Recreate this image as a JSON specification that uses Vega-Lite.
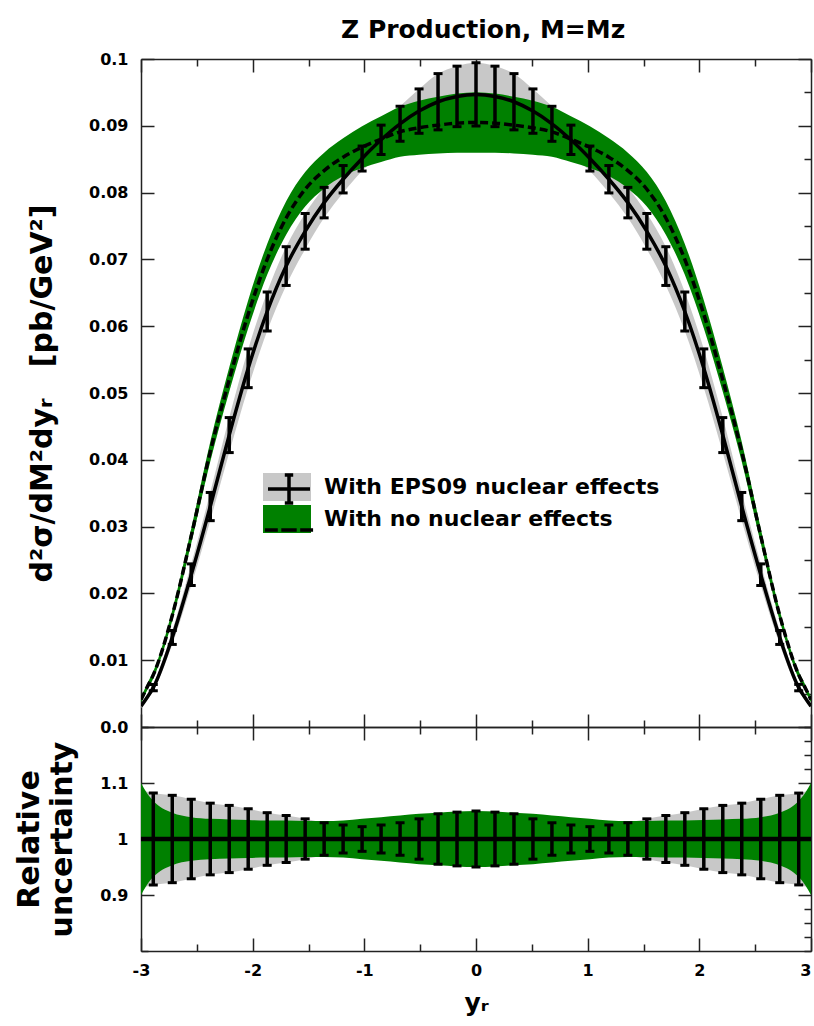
{
  "$schema": "https://vega.github.io/schema/vega-lite/v6.json",
  "padding": {"left": 14, "top": 18, "right": 4, "bottom": 5},
  "title": {"text": "Z Production, M=Mᴢ", "font": "DejaVu Sans", "fontWeight": "bold", "fontSize": 25, "color": "black", "anchor": "middle", "offset": 8, "dx": 68},
  "config": {
    "font": "DejaVu Sans",
    "view": {"stroke": null},
    "axis": {"labelFont": "DejaVu Sans", "labelFontWeight": "bold", "labelFontSize": 16, "labelColor": "black", "titleFont": "DejaVu Sans", "titleFontWeight": "bold", "titleFontSize": 30, "titleColor": "black", "domainColor": "#222", "domainWidth": 1.5, "tickColor": "#222", "tickWidth": 1.5, "grid": false, "labelFlush": false, "labelOverlap": false}
  },
  "datasets": {
    "eps": [
      {"x": -3, "y": 0.0031, "lo": 0.00283, "hi": 0.00337, "rlo": 0.912, "rhi": 1.088},
      {"x": -2.95, "y": 0.0043, "lo": 0.00393, "hi": 0.00467, "rlo": 0.915, "rhi": 1.085},
      {"x": -2.89, "y": 0.0059, "lo": 0.00542, "hi": 0.00638, "rlo": 0.918, "rhi": 1.082},
      {"x": -2.72, "y": 0.0134, "lo": 0.01236, "hi": 0.01445, "rlo": 0.922, "rhi": 1.078},
      {"x": -2.55, "y": 0.0228, "lo": 0.02118, "hi": 0.02442, "rlo": 0.929, "rhi": 1.071},
      {"x": -2.38, "y": 0.033, "lo": 0.03089, "hi": 0.03511, "rlo": 0.936, "rhi": 1.064},
      {"x": -2.21, "y": 0.0437, "lo": 0.04108, "hi": 0.04632, "rlo": 0.94, "rhi": 1.06},
      {"x": -2.04, "y": 0.0537, "lo": 0.0508, "hi": 0.0566, "rlo": 0.946, "rhi": 1.054},
      {"x": -1.87, "y": 0.0622, "lo": 0.05928, "hi": 0.06512, "rlo": 0.953, "rhi": 1.047},
      {"x": -1.7, "y": 0.069, "lo": 0.0661, "hi": 0.0719, "rlo": 0.958, "rhi": 1.042},
      {"x": -1.53, "y": 0.0742, "lo": 0.07153, "hi": 0.07687, "rlo": 0.964, "rhi": 1.036},
      {"x": -1.36, "y": 0.0785, "lo": 0.07622, "hi": 0.08078, "rlo": 0.971, "rhi": 1.029},
      {"x": -1.19, "y": 0.082, "lo": 0.07995, "hi": 0.08405, "rlo": 0.975, "rhi": 1.025},
      {"x": -1.02, "y": 0.0851, "lo": 0.08323, "hi": 0.08697, "rlo": 0.978, "rhi": 1.022},
      {"x": -0.85, "y": 0.0879, "lo": 0.0857, "hi": 0.0901, "rlo": 0.975, "rhi": 1.025},
      {"x": -0.68, "y": 0.0903, "lo": 0.08768, "hi": 0.09292, "rlo": 0.971, "rhi": 1.029},
      {"x": -0.51, "y": 0.0922, "lo": 0.08888, "hi": 0.09552, "rlo": 0.964, "rhi": 1.036},
      {"x": -0.34, "y": 0.0936, "lo": 0.08939, "hi": 0.09781, "rlo": 0.955, "rhi": 1.045},
      {"x": -0.17, "y": 0.0944, "lo": 0.08987, "hi": 0.09893, "rlo": 0.952, "rhi": 1.048},
      {"x": 0, "y": 0.0947, "lo": 0.08997, "hi": 0.09944, "rlo": 0.95, "rhi": 1.05},
      {"x": 0.17, "y": 0.0944, "lo": 0.08987, "hi": 0.09893, "rlo": 0.952, "rhi": 1.048},
      {"x": 0.34, "y": 0.0936, "lo": 0.08939, "hi": 0.09781, "rlo": 0.955, "rhi": 1.045},
      {"x": 0.51, "y": 0.0922, "lo": 0.08888, "hi": 0.09552, "rlo": 0.964, "rhi": 1.036},
      {"x": 0.68, "y": 0.0903, "lo": 0.08768, "hi": 0.09292, "rlo": 0.971, "rhi": 1.029},
      {"x": 0.85, "y": 0.0879, "lo": 0.0857, "hi": 0.0901, "rlo": 0.975, "rhi": 1.025},
      {"x": 1.02, "y": 0.0851, "lo": 0.08323, "hi": 0.08697, "rlo": 0.978, "rhi": 1.022},
      {"x": 1.19, "y": 0.082, "lo": 0.07995, "hi": 0.08405, "rlo": 0.975, "rhi": 1.025},
      {"x": 1.36, "y": 0.0785, "lo": 0.07622, "hi": 0.08078, "rlo": 0.971, "rhi": 1.029},
      {"x": 1.53, "y": 0.0742, "lo": 0.07153, "hi": 0.07687, "rlo": 0.964, "rhi": 1.036},
      {"x": 1.7, "y": 0.069, "lo": 0.0661, "hi": 0.0719, "rlo": 0.958, "rhi": 1.042},
      {"x": 1.87, "y": 0.0622, "lo": 0.05928, "hi": 0.06512, "rlo": 0.953, "rhi": 1.047},
      {"x": 2.04, "y": 0.0537, "lo": 0.0508, "hi": 0.0566, "rlo": 0.946, "rhi": 1.054},
      {"x": 2.21, "y": 0.0437, "lo": 0.04108, "hi": 0.04632, "rlo": 0.94, "rhi": 1.06},
      {"x": 2.38, "y": 0.033, "lo": 0.03089, "hi": 0.03511, "rlo": 0.936, "rhi": 1.064},
      {"x": 2.55, "y": 0.0228, "lo": 0.02118, "hi": 0.02442, "rlo": 0.929, "rhi": 1.071},
      {"x": 2.72, "y": 0.0134, "lo": 0.01236, "hi": 0.01445, "rlo": 0.922, "rhi": 1.078},
      {"x": 2.89, "y": 0.0059, "lo": 0.00542, "hi": 0.00638, "rlo": 0.918, "rhi": 1.082},
      {"x": 2.95, "y": 0.0043, "lo": 0.00393, "hi": 0.00467, "rlo": 0.915, "rhi": 1.085},
      {"x": 3, "y": 0.0031, "lo": 0.00283, "hi": 0.00337, "rlo": 0.912, "rhi": 1.088}
    ],
    "nonuc": [
      {"x": -3, "y": 0.0041, "lo": 0.00369, "hi": 0.00451, "rlo": 0.9, "rhi": 1.1},
      {"x": -2.95, "y": 0.0058, "lo": 0.00532, "hi": 0.00628, "rlo": 0.917, "rhi": 1.083},
      {"x": -2.89, "y": 0.0078, "lo": 0.00727, "hi": 0.00833, "rlo": 0.932, "rhi": 1.068},
      {"x": -2.72, "y": 0.0167, "lo": 0.01592, "hi": 0.01749, "rlo": 0.953, "rhi": 1.047},
      {"x": -2.55, "y": 0.0286, "lo": 0.02749, "hi": 0.02972, "rlo": 0.961, "rhi": 1.039},
      {"x": -2.38, "y": 0.0412, "lo": 0.03972, "hi": 0.04268, "rlo": 0.964, "rhi": 1.036},
      {"x": -2.21, "y": 0.052, "lo": 0.05018, "hi": 0.05382, "rlo": 0.965, "rhi": 1.035},
      {"x": -2.04, "y": 0.0618, "lo": 0.0597, "hi": 0.0639, "rlo": 0.966, "rhi": 1.034},
      {"x": -1.87, "y": 0.07, "lo": 0.06769, "hi": 0.07231, "rlo": 0.967, "rhi": 1.033},
      {"x": -1.7, "y": 0.0762, "lo": 0.07369, "hi": 0.07872, "rlo": 0.967, "rhi": 1.033},
      {"x": -1.53, "y": 0.0805, "lo": 0.07792, "hi": 0.08308, "rlo": 0.968, "rhi": 1.032},
      {"x": -1.36, "y": 0.0833, "lo": 0.08063, "hi": 0.08597, "rlo": 0.968, "rhi": 1.032},
      {"x": -1.19, "y": 0.0853, "lo": 0.08249, "hi": 0.08812, "rlo": 0.967, "rhi": 1.033},
      {"x": -1.02, "y": 0.0868, "lo": 0.08368, "hi": 0.08993, "rlo": 0.964, "rhi": 1.036},
      {"x": -0.85, "y": 0.088, "lo": 0.08457, "hi": 0.09143, "rlo": 0.961, "rhi": 1.039},
      {"x": -0.68, "y": 0.0891, "lo": 0.08536, "hi": 0.09284, "rlo": 0.958, "rhi": 1.042},
      {"x": -0.51, "y": 0.0897, "lo": 0.08566, "hi": 0.09374, "rlo": 0.955, "rhi": 1.045},
      {"x": -0.34, "y": 0.0901, "lo": 0.08587, "hi": 0.09434, "rlo": 0.953, "rhi": 1.047},
      {"x": -0.17, "y": 0.0904, "lo": 0.08597, "hi": 0.09483, "rlo": 0.951, "rhi": 1.049},
      {"x": 0, "y": 0.0905, "lo": 0.08598, "hi": 0.09503, "rlo": 0.95, "rhi": 1.05},
      {"x": 0.17, "y": 0.0904, "lo": 0.08597, "hi": 0.09483, "rlo": 0.951, "rhi": 1.049},
      {"x": 0.34, "y": 0.0901, "lo": 0.08587, "hi": 0.09434, "rlo": 0.953, "rhi": 1.047},
      {"x": 0.51, "y": 0.0897, "lo": 0.08566, "hi": 0.09374, "rlo": 0.955, "rhi": 1.045},
      {"x": 0.68, "y": 0.0891, "lo": 0.08536, "hi": 0.09284, "rlo": 0.958, "rhi": 1.042},
      {"x": 0.85, "y": 0.088, "lo": 0.08457, "hi": 0.09143, "rlo": 0.961, "rhi": 1.039},
      {"x": 1.02, "y": 0.0868, "lo": 0.08368, "hi": 0.08993, "rlo": 0.964, "rhi": 1.036},
      {"x": 1.19, "y": 0.0853, "lo": 0.08249, "hi": 0.08812, "rlo": 0.967, "rhi": 1.033},
      {"x": 1.36, "y": 0.0833, "lo": 0.08063, "hi": 0.08597, "rlo": 0.968, "rhi": 1.032},
      {"x": 1.53, "y": 0.0805, "lo": 0.07792, "hi": 0.08308, "rlo": 0.968, "rhi": 1.032},
      {"x": 1.7, "y": 0.0762, "lo": 0.07369, "hi": 0.07872, "rlo": 0.967, "rhi": 1.033},
      {"x": 1.87, "y": 0.07, "lo": 0.06769, "hi": 0.07231, "rlo": 0.967, "rhi": 1.033},
      {"x": 2.04, "y": 0.0618, "lo": 0.0597, "hi": 0.0639, "rlo": 0.966, "rhi": 1.034},
      {"x": 2.21, "y": 0.052, "lo": 0.05018, "hi": 0.05382, "rlo": 0.965, "rhi": 1.035},
      {"x": 2.38, "y": 0.0412, "lo": 0.03972, "hi": 0.04268, "rlo": 0.964, "rhi": 1.036},
      {"x": 2.55, "y": 0.0286, "lo": 0.02749, "hi": 0.02972, "rlo": 0.961, "rhi": 1.039},
      {"x": 2.72, "y": 0.0167, "lo": 0.01592, "hi": 0.01749, "rlo": 0.953, "rhi": 1.047},
      {"x": 2.89, "y": 0.0078, "lo": 0.00727, "hi": 0.00833, "rlo": 0.932, "rhi": 1.068},
      {"x": 2.95, "y": 0.0058, "lo": 0.00532, "hi": 0.00628, "rlo": 0.917, "rhi": 1.083},
      {"x": 3, "y": 0.0041, "lo": 0.00369, "hi": 0.00451, "rlo": 0.9, "rhi": 1.1}
    ]
  },
  "spacing": 0,
  "bounds": "flush",
  "vconcat": [
    {
      "width": 670,
      "height": 668,
      "resolve": {"scale": {"x": "independent", "y": "independent"}},
      "layer": [
        {
          "layer": [
            {
              "data": {"name": "eps"},
              "mark": {"type": "area", "interpolate": "monotone", "opacity": 1, "clip": true},
              "encoding": {
                "x": {"field": "x", "type": "quantitative", "scale": {"domain": [-3, 3], "nice": false, "zero": false},
                  "axis": {"orient": "bottom", "values": [-3, -2.5, -2, -1.5, -1, -0.5, 0, 0.5, 1, 1.5, 2, 2.5, 3], "labels": false, "title": null,
                    "tickSize": {"condition": {"test": "datum.value % 1 == 0", "value": -13}, "value": -7}}},
                "y": {"field": "lo", "type": "quantitative", "scale": {"domain": [0, 0.1], "nice": false, "zero": false},
                  "axis": {"orient": "left", "values": [0, 0.005, 0.01, 0.015, 0.02, 0.025, 0.03, 0.035, 0.04, 0.045, 0.05, 0.055, 0.06, 0.065, 0.07, 0.075, 0.08, 0.085, 0.09, 0.095, 0.1],
                    "labelExpr": "round(datum.value*1000) % 10 == 0 ? (datum.value == 0 ? '0.0' : (datum.value > 0.099 ? '0.1' : format(datum.value, '.2f'))) : ''",
                    "tickSize": {"condition": {"test": "round(datum.value*1000) % 10 == 0", "value": -13}, "value": -7},
                    "labelPadding": 26, "titlePadding": 31,
                    "title": "d²σ/dM²dyᵣ\u00a0\u00a0 [pb/GeV²]"}},
                "y2": {"field": "hi"},
                "color": {"datum": "With EPS09 nuclear effects", "type": "nominal",
                  "scale": {"domain": ["With EPS09 nuclear effects", "With no nuclear effects"], "range": ["#c8c8c8", "#008000"]},
                  "legend": {"orient": "none", "legendX": 132, "legendY": 414, "title": null, "zindex": 0,
                    "symbolType": "M-1.714,-1H1.714V1H-1.714Z", "symbolSize": 784, "symbolStrokeWidth": 0, "symbolOpacity": 1,
                    "labelFont": "DejaVu Sans", "labelFontWeight": "bold", "labelFontSize": 22, "labelColor": "black", "labelLimit": 0,
                    "labelOffset": 23, "rowPadding": 4, "padding": 0}}
              }
            },
            {
              "data": {"name": "nonuc"},
              "mark": {"type": "area", "interpolate": "monotone", "opacity": 1, "clip": true},
              "encoding": {
                "x": {"field": "x", "type": "quantitative"},
                "y": {"field": "lo", "type": "quantitative"},
                "y2": {"field": "hi"},
                "color": {"datum": "With no nuclear effects", "type": "nominal"}
              }
            },
            {
              "data": {"name": "nonuc"},
              "mark": {"type": "line", "interpolate": "monotone", "color": "black", "strokeWidth": 3.5, "strokeDash": [8, 4], "clip": true},
              "encoding": {
                "x": {"field": "x", "type": "quantitative"},
                "y": {"field": "y", "type": "quantitative"}
              }
            },
            {
              "data": {"name": "eps"},
              "mark": {"type": "line", "interpolate": "monotone", "color": "black", "strokeWidth": 3.5, "clip": true},
              "encoding": {
                "x": {"field": "x", "type": "quantitative"},
                "y": {"field": "y", "type": "quantitative"}
              }
            },
            {
              "data": {"name": "eps"},
              "transform": [{"filter": {"field": "x", "range": [-2.9, 2.9]}}],
              "mark": {"type": "rule", "color": "black", "strokeWidth": 3.5},
              "encoding": {
                "x": {"field": "x", "type": "quantitative"},
                "y": {"field": "lo", "type": "quantitative"},
                "y2": {"field": "hi"}
              }
            },
            {
              "data": {"name": "eps"},
              "transform": [{"filter": {"field": "x", "range": [-2.9, 2.9]}}],
              "mark": {"type": "tick", "orient": "horizontal", "color": "black", "size": 9, "thickness": 3, "opacity": 1},
              "encoding": {
                "x": {"field": "x", "type": "quantitative"},
                "y": {"field": "lo", "type": "quantitative"}
              }
            },
            {
              "data": {"name": "eps"},
              "transform": [{"filter": {"field": "x", "range": [-2.9, 2.9]}}],
              "mark": {"type": "tick", "orient": "horizontal", "color": "black", "size": 9, "thickness": 3, "opacity": 1},
              "encoding": {
                "x": {"field": "x", "type": "quantitative"},
                "y": {"field": "hi", "type": "quantitative"}
              }
            },
            {
              "data": {"name": "eps"},
              "mark": {"type": "point", "color": "black", "opacity": 0},
              "encoding": {
                "x": {"field": "x", "type": "quantitative"},
                "y": {"field": "y", "type": "quantitative"},
                "shape": {"datum": "EPS09", "type": "nominal",
                  "scale": {"domain": ["EPS09", "none"], "range": ["M-1.5,0H1.5M0,-1V1M-0.3,-1H0.3M-0.3,1H0.3", "M-1.72,0H-0.8M-0.55,0H0.55M0.8,0H1.72"]},
                  "legend": {"orient": "none", "legendX": 132, "legendY": 414, "title": null, "zindex": 1,
                    "symbolSize": 784, "symbolStrokeColor": "black", "symbolStrokeWidth": 3.5, "symbolFillColor": "transparent", "symbolOpacity": 1,
                    "labelFont": "DejaVu Sans", "labelFontWeight": "bold", "labelFontSize": 22, "labelExpr": "''", "labelLimit": 0,
                    "labelOffset": 23, "rowPadding": 4, "padding": 0}}
              }
            },
            {
              "data": {"name": "nonuc"},
              "mark": {"type": "point", "color": "black", "opacity": 0},
              "encoding": {
                "x": {"field": "x", "type": "quantitative"},
                "y": {"field": "y", "type": "quantitative"},
                "shape": {"datum": "none", "type": "nominal"}
              }
            }
          ]
        },
        {
          "data": {"name": "eps"},
          "mark": {"type": "point", "opacity": 0},
          "encoding": {
            "x": {"field": "x", "type": "quantitative", "scale": {"domain": [-3, 3], "nice": false, "zero": false},
              "axis": {"orient": "top", "values": [-3, -2.5, -2, -1.5, -1, -0.5, 0, 0.5, 1, 1.5, 2, 2.5, 3], "labels": false, "title": null,
                "tickSize": {"condition": {"test": "datum.value % 1 == 0", "value": -13}, "value": -7}}},
            "y": {"field": "y", "type": "quantitative", "scale": {"domain": [0, 0.1], "nice": false, "zero": false},
              "axis": {"orient": "right", "values": [0, 0.005, 0.01, 0.015, 0.02, 0.025, 0.03, 0.035, 0.04, 0.045, 0.05, 0.055, 0.06, 0.065, 0.07, 0.075, 0.08, 0.085, 0.09, 0.095, 0.1],
                "labels": false, "title": null,
                "tickSize": {"condition": {"test": "round(datum.value*1000) % 10 == 0", "value": -13}, "value": -7}}}
          }
        }
      ]
    },
    {
      "width": 670,
      "height": 224,
      "resolve": {"scale": {"x": "independent", "y": "independent"}},
      "layer": [
        {
          "layer": [
            {
              "data": {"name": "eps"},
              "mark": {"type": "area", "interpolate": "monotone", "color": "#c8c8c8", "opacity": 1, "clip": true},
              "encoding": {
                "x": {"field": "x", "type": "quantitative", "scale": {"domain": [-3, 3], "nice": false, "zero": false},
                  "axis": {"orient": "bottom", "values": [-3, -2.5, -2, -1.5, -1, -0.5, 0, 0.5, 1, 1.5, 2, 2.5, 3],
                    "labelExpr": "datum.value % 1 == 0 ? '' + datum.value : ''",
                    "labelAlign": {"condition": {"test": "datum.value == 3", "value": "right"}, "value": "center"},
                    "tickSize": {"condition": {"test": "datum.value % 1 == 0", "value": -13}, "value": -7},
                    "labelPadding": 24, "titlePadding": 6, "title": "yᵣ", "titleFontSize": 25}},
                "y": {"field": "rlo", "type": "quantitative", "scale": {"domain": [0.8, 1.2], "nice": false, "zero": false},
                  "axis": {"orient": "left", "values": [0.8, 0.825, 0.85, 0.875, 0.9, 0.925, 0.95, 0.975, 1, 1.025, 1.05, 1.075, 1.1, 1.125, 1.15, 1.175, 1.2],
                    "labelExpr": "datum.value == 1 ? '1' : (datum.value == 0.9 ? '0.9' : (datum.value == 1.1 ? '1.1' : ''))",
                    "tickSize": {"condition": {"test": "datum.value == 0.9 || datum.value == 1 || datum.value == 1.1", "value": -13}, "value": -7},
                    "labelPadding": 26, "titlePadding": 22, "titleLineHeight": 33,
                    "title": ["Relative", "uncertainty"]}},
                "y2": {"field": "rhi"}
              }
            },
            {
              "data": {"name": "nonuc"},
              "mark": {"type": "area", "interpolate": "monotone", "color": "#008000", "opacity": 1, "clip": true},
              "encoding": {
                "x": {"field": "x", "type": "quantitative"},
                "y": {"field": "rlo", "type": "quantitative"},
                "y2": {"field": "rhi"}
              }
            },
            {
              "data": {"values": [{}]},
              "mark": {"type": "rule", "color": "black", "strokeWidth": 4.5},
              "encoding": {"y": {"datum": 1, "type": "quantitative"}}
            },
            {
              "data": {"name": "eps"},
              "transform": [{"filter": {"field": "x", "range": [-2.9, 2.9]}}],
              "mark": {"type": "rule", "color": "black", "strokeWidth": 3.5},
              "encoding": {
                "x": {"field": "x", "type": "quantitative"},
                "y": {"field": "rlo", "type": "quantitative"},
                "y2": {"field": "rhi"}
              }
            },
            {
              "data": {"name": "eps"},
              "transform": [{"filter": {"field": "x", "range": [-2.9, 2.9]}}],
              "mark": {"type": "tick", "orient": "horizontal", "color": "black", "size": 9, "thickness": 3, "opacity": 1},
              "encoding": {
                "x": {"field": "x", "type": "quantitative"},
                "y": {"field": "rlo", "type": "quantitative"}
              }
            },
            {
              "data": {"name": "eps"},
              "transform": [{"filter": {"field": "x", "range": [-2.9, 2.9]}}],
              "mark": {"type": "tick", "orient": "horizontal", "color": "black", "size": 9, "thickness": 3, "opacity": 1},
              "encoding": {
                "x": {"field": "x", "type": "quantitative"},
                "y": {"field": "rhi", "type": "quantitative"}
              }
            }
          ]
        },
        {
          "data": {"name": "eps"},
          "mark": {"type": "point", "opacity": 0},
          "encoding": {
            "x": {"field": "x", "type": "quantitative", "scale": {"domain": [-3, 3], "nice": false, "zero": false},
              "axis": {"orient": "top", "values": [-3, -2.5, -2, -1.5, -1, -0.5, 0, 0.5, 1, 1.5, 2, 2.5, 3], "labels": false, "title": null,
                "tickSize": {"condition": {"test": "datum.value % 1 == 0", "value": -13}, "value": -7}}},
            "y": {"field": "rlo", "type": "quantitative", "scale": {"domain": [0.8, 1.2], "nice": false, "zero": false},
              "axis": {"orient": "right", "values": [0.8, 0.825, 0.85, 0.875, 0.9, 0.925, 0.95, 0.975, 1, 1.025, 1.05, 1.075, 1.1, 1.125, 1.15, 1.175, 1.2],
                "labels": false, "title": null,
                "tickSize": {"condition": {"test": "datum.value == 0.9 || datum.value == 1 || datum.value == 1.1", "value": -13}, "value": -7}}}
          }
        }
      ]
    }
  ]
}
